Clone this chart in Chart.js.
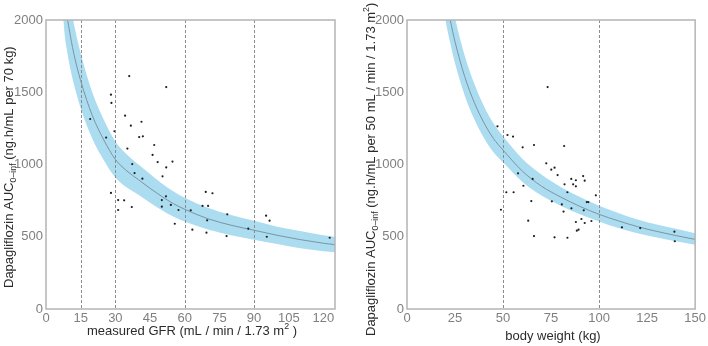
<!DOCTYPE html>
<html>
<head>
<meta charset="utf-8">
<script src="https://cdn.jsdelivr.net/npm/chart.js@4.4.1/dist/chart.umd.min.js"></script>
<style>
  html, body { margin: 0; padding: 0; background: #fff; }
  #wrap { position: relative; width: 708px; height: 346px; }
  .panel { position: absolute; top: 0; width: 354px; height: 346px; }
</style>
</head>
<body>
<div id="wrap">
  <div class="panel" style="left:0"><canvas id="gfrChart" width="354" height="346"></canvas></div>
  <div class="panel" style="left:354px"><canvas id="wtChart" width="354" height="346"></canvas></div>
</div>
<script>
// ---- data: left panel (measured GFR) ----
const gfrTicks = [0, 15, 30, 45, 60, 75, 90, 105, 120];
const gfrRefLines = [15, 30, 60, 90];
const gfrObs = [36.0, 52.0, 28.1, 28.3, 19.1, 34.2, 36.7, 41.3, 26.0, 29.6, 40.3, 41.9, 35.2, 46.8, 46.1, 48.3,
  54.7, 37.3, 52.0, 38.3, 41.7, 50.4, 28.1, 31.2, 33.8, 31.2, 37.1, 50.1, 51.9, 50.1, 54.0, 57.3,
  55.7, 62.6, 63.3, 67.7, 69.1, 72.0, 70.1, 69.7, 69.4, 78.4, 78.1, 87.5, 95.2, 96.7, 95.5, 122.7];
const gfrAucObs = [1612, 1536, 1483, 1426, 1315, 1338, 1269, 1296, 1186, 1230, 1190, 1195, 1110, 1135, 1066, 1017,
  1020, 1003, 980, 941, 902, 918, 803, 754, 752, 685, 706, 754, 780, 708, 720, 685,
  590, 683, 549, 713, 810, 801, 713, 614, 528, 655, 505, 556, 646, 611, 500, 493];
const gfrGrid = [7, 8, 9, 10, 12, 15, 20, 25, 30, 35, 40, 45, 50, 55, 60, 70, 80, 90, 100, 110, 120, 125];
const gfrAucMid = [2420, 2170, 2040, 1940, 1770, 1580, 1340, 1170, 1035, 955, 895, 835, 780, 730, 690, 625, 580, 545, 510, 480, 455, 445];
const gfrAucHi = [2710, 2430, 2285, 2170, 1980, 1770, 1500, 1310, 1160, 1070, 1000, 935, 870, 815, 770, 700, 650, 610, 570, 540, 510, 500];
const gfrAucLo = [2130, 1910, 1795, 1705, 1560, 1390, 1180, 1030, 910, 840, 790, 735, 685, 640, 605, 550, 510, 480, 450, 420, 400, 392];

// ---- data: right panel (body weight) ----
const wtTicks = [0, 25, 50, 75, 100, 125, 150];
const wtRefLines = [50, 100];
const wtObs = [73.2, 47.1, 52.3, 55.2, 60.2, 66.1, 81.8, 72.5, 75.1, 76.8, 57.8, 78.4, 65.4, 85.5, 87.9, 91.7,
  92.5, 60.6, 82.0, 86.5, 87.9, 51.7, 55.5, 83.5, 98.3, 64.7, 75.4, 93.6, 94.4, 80.6, 48.9, 85.6,
  92.0, 81.5, 63.1, 90.8, 96.0, 87.9, 92.5, 89.3, 88.4, 66.1, 76.8, 83.5, 111.9, 121.4, 139.2, 139.4];
const wtAucObs = [1536, 1264, 1204, 1193, 1119, 1135, 1128, 1008, 964, 978, 939, 927, 900, 900, 891, 920,
  888, 853, 863, 863, 849, 808, 808, 808, 787, 747, 745, 740, 740, 724, 687, 697,
  683, 674, 611, 623, 609, 602, 595, 549, 542, 505, 496, 493, 565, 560, 535, 469];
const wtGrid = [19, 20, 22.5, 25, 30, 35, 40, 45, 50, 60, 70, 80, 90, 100, 110, 120, 130, 140, 150];
const wtAucMid = [2260, 2170, 2000, 1850, 1610, 1430, 1290, 1180, 1100, 955, 850, 775, 710, 655, 610, 570, 537, 508, 482];
const wtAucHi = [2460, 2365, 2180, 2015, 1755, 1560, 1405, 1285, 1195, 1040, 930, 845, 775, 715, 665, 620, 585, 555, 525];
const wtAucLo = [2080, 2000, 1840, 1700, 1480, 1315, 1185, 1085, 1015, 880, 785, 715, 655, 605, 560, 525, 495, 468, 445];

const aucTicks = [0, 500, 1000, 1500, 2000];

const FONT = '"Liberation Sans", Arial, Helvetica, sans-serif';
const BAND = '#abdcf0';

function xy(xs, ys) {
  return xs.map((x, i) => ({ x, y: ys[i] }));
}

// draws text pieces (with sub/superscripts) from the current origin, baseline at 0
function drawParts(ctx, parts, size) {
  let u = 0;
  parts.forEach((p) => {
    const small = p.sub || p.sup;
    ctx.font = (small ? size * 0.68 : size) + 'px ' + FONT;
    const dv = p.sub ? size * 0.3 : (p.sup ? -size * 0.45 : 0);
    ctx.fillText(p.t, u, dv);
    u += ctx.measureText(p.t).width;
  });
  return u;
}

function partsWidth(ctx, parts, size) {
  let w = 0;
  parts.forEach((p) => {
    const small = p.sub || p.sup;
    ctx.font = (small ? size * 0.68 : size) + 'px ' + FONT;
    w += ctx.measureText(p.t).width;
  });
  return w;
}

const decorPlugin = {
  id: 'decor',
  afterDatasetsDraw(chart, args, opts) {
    const { ctx, chartArea, scales } = chart;
    ctx.save();
    ctx.strokeStyle = '#8c8c8c';
    ctx.lineWidth = 1;
    ctx.setLineDash([3, 2]);
    (opts.refLines || []).forEach((v) => {
      const px = Math.round(scales.x.getPixelForValue(v)) + 0.5;
      ctx.beginPath();
      ctx.moveTo(px, chartArea.top);
      ctx.lineTo(px, chartArea.bottom);
      ctx.stroke();
    });
    ctx.restore();
  },
  afterDraw(chart, args, opts) {
    const { ctx, chartArea } = chart;
    ctx.save();
    // frame
    ctx.strokeStyle = '#b4b4b4';
    ctx.lineWidth = 1.5;
    ctx.strokeRect(chartArea.left, chartArea.top, chartArea.right - chartArea.left, chartArea.bottom - chartArea.top);
    ctx.fillStyle = '#2b2b2b';
    ctx.textBaseline = 'alphabetic';
    ctx.textAlign = 'left';
    // x title
    const xs = opts.xTitle;
    const w = partsWidth(ctx, xs.parts, 13);
    ctx.save();
    ctx.translate(xs.cx - w / 2, xs.baseline);
    drawParts(ctx, xs.parts, 13);
    ctx.restore();
    // y title (rotated, reads bottom to top)
    const ys = opts.yTitle;
    ctx.save();
    ctx.translate(ys.baseline, ys.start);
    ctx.rotate(-Math.PI / 2);
    drawParts(ctx, ys.parts, 13);
    ctx.restore();
    ctx.restore();
  }
};

function buildChart(id, cfg) {
  const tickFont = { family: FONT, size: 13 };
  return new Chart(document.getElementById(id), {
    type: 'scatter',
    data: {
      datasets: [
        {
          label: 'observed',
          data: xy(cfg.obsX, cfg.obsY),
          pointRadius: 1.1,
          pointBackgroundColor: '#1e1e1e',
          pointBorderWidth: 0,
          showLine: false
        },
        {
          label: 'typical',
          data: xy(cfg.gridX, cfg.mid),
          showLine: true,
          borderColor: '#7a95a4',
          borderWidth: 1,
          pointRadius: 0,
          cubicInterpolationMode: 'monotone',
          fill: false
        },
        {
          label: 'upper',
          data: xy(cfg.gridX, cfg.hi),
          showLine: true,
          borderColor: 'rgba(0,0,0,0)',
          borderWidth: 0,
          pointRadius: 0,
          cubicInterpolationMode: 'monotone',
          backgroundColor: BAND,
          fill: '+1'
        },
        {
          label: 'lower',
          data: xy(cfg.gridX, cfg.lo),
          showLine: true,
          borderColor: 'rgba(0,0,0,0)',
          borderWidth: 0,
          pointRadius: 0,
          cubicInterpolationMode: 'monotone',
          fill: false
        }
      ]
    },
    options: {
      responsive: false,
      animation: false,
      events: [],
      layout: { padding: { top: 20, right: cfg.padRight, left: 0, bottom: 0 } },
      scales: {
        x: {
          type: 'linear',
          min: cfg.xMin,
          max: cfg.xMax,
          afterBuildTicks: (s) => { s.ticks = cfg.xTicks.map((v) => ({ value: v })); },
          afterFit: (s) => { s.height = 37; },
          grid: { display: false, drawTicks: false },
          border: { display: false },
          ticks: { color: '#7f7f7f', font: tickFont, padding: 2, maxRotation: 0, autoSkip: false, callback: (v) => String(v) }
        },
        y: {
          type: 'linear',
          min: 0,
          max: 2000,
          afterBuildTicks: (s) => { s.ticks = aucTicks.map((v) => ({ value: v })); },
          afterFit: (s) => { s.width = cfg.yWidth; },
          grid: { display: false, drawTicks: false },
          border: { display: false },
          ticks: { color: '#7f7f7f', font: tickFont, padding: 3, callback: (v) => String(v) }
        }
      },
      plugins: {
        legend: { display: false },
        tooltip: { enabled: false },
        decor: {
          refLines: cfg.refLines,
          xTitle: cfg.xTitle,
          yTitle: cfg.yTitle
        }
      }
    },
    plugins: [decorPlugin]
  });
}

buildChart('gfrChart', {
  obsX: gfrObs, obsY: gfrAucObs,
  gridX: gfrGrid, mid: gfrAucMid, hi: gfrAucHi, lo: gfrAucLo,
  xMin: 0, xMax: 125, xTicks: gfrTicks, refLines: gfrRefLines,
  padRight: 19, yWidth: 46,
  xTitle: {
    cx: 192, baseline: 335,
    parts: [{ t: 'measured GFR (mL / min / 1.73 m' }, { t: '2', sup: true }, { t: ' )' }]
  },
  yTitle: {
    baseline: 12.5, start: 288,
    parts: [{ t: 'Dapagliflozin AUC' }, { t: '0\u2013inf', sub: true }, { t: ' (ng.h/mL per 70 kg)' }]
  }
});

buildChart('wtChart', {
  obsX: wtObs, obsY: wtAucObs,
  gridX: wtGrid, mid: wtAucMid, hi: wtAucHi, lo: wtAucLo,
  xMin: 0, xMax: 150, xTicks: wtTicks, refLines: wtRefLines,
  padRight: 12, yWidth: 53,
  xTitle: {
    cx: 199, baseline: 340,
    parts: [{ t: 'body weight (kg)' }]
  },
  yTitle: {
    baseline: 20.5, start: 336,
    parts: [{ t: 'Dapagliflozin AUC' }, { t: '0\u2013inf', sub: true }, { t: ' (ng.h/mL per 50 mL / min / 1.73 m' }, { t: '2', sup: true }, { t: ')' }]
  }
});
</script>
</body>
</html>
